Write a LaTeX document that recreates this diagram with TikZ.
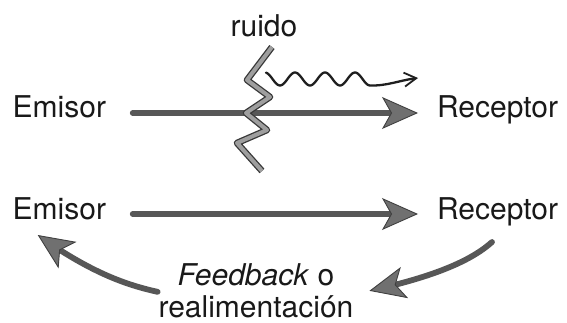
\documentclass[tikz,border=0pt]{standalone}
\usepackage{fontspec}
\setmainfont{TeX Gyre Heros}
\usetikzlibrary{arrows.meta,bending}

\begin{document}
\begin{tikzpicture}[x=1pt,y=-1pt,
  label/.style={inner sep=0pt, outer sep=0pt, text=black!90,
    font=\fontsize{30}{32}\selectfont},
  bigarrow/.style={draw=black!66, line width=5.8pt, line cap=round,
    -{Stealth[length=36pt, width=32pt, inset=9pt, line width=0.9pt,
      fill=black!56, color=black!75]}},
  zigzag/.style={draw=black!78, line width=1.3pt, line join=round,
    double=black!38, double distance=4pt},
  wave/.style={draw=black!88, line width=2.3pt, line cap=round,
    -{Straight Barb[length=12pt, width=14pt, line width=1.8pt]}}
]
\useasboundingbox (0,0) rectangle (567,323);

% labels
\node[label, anchor=base] (ruido) at (264,37) {ruido};
\node[label, anchor=base west] (e1) at (12.7,118) {Emisor};
\node[label, anchor=base west] (r1) at (437,118) {Receptor};
\node[label, anchor=base west] (e2) at (12.7,219) {Emisor};
\node[label, anchor=base west] (r2) at (437,219) {Receptor};
\node[label, anchor=south, align=center] (fb) at (256,318)
  {\textit{Feedback} o\\realimentación};

% message with noise
\draw[bigarrow] ([xshift=120pt,yshift=5pt]e1.base west)
  -- ([xshift=-19pt,yshift=5pt]r1.base west);

% noise zigzag crossing the channel
\draw[zigzag] (272,47) -- (247,80) -- (270,97) -- (246,113)
  -- (267,130) -- (237,143) -- (262,171);

% disturbed signal
\coordinate (w1) at (418,78);
\draw[wave] plot[domain=266:370, samples=90]
  (\x,{79-6.5*cos(12*(\x-265))})
  .. controls (388,86) and (400,80) .. (w1);

% message without noise
\draw[bigarrow] ([xshift=120pt,yshift=5pt]e2.base west)
  -- ([xshift=-19pt,yshift=5pt]r2.base west);

% feedback loop
\draw[bigarrow] ([xshift=55pt,yshift=-23pt]r2.base west)
  .. controls +(-22,20) and +(60,-13) .. ([xshift=16pt]fb.east);
\draw[bigarrow] ([xshift=-1pt,yshift=-1pt]fb.west)
  .. controls +(-32,-7) and +(52,37) .. ([xshift=25pt,yshift=-16pt]e2.base west);
\end{tikzpicture}
\end{document}
